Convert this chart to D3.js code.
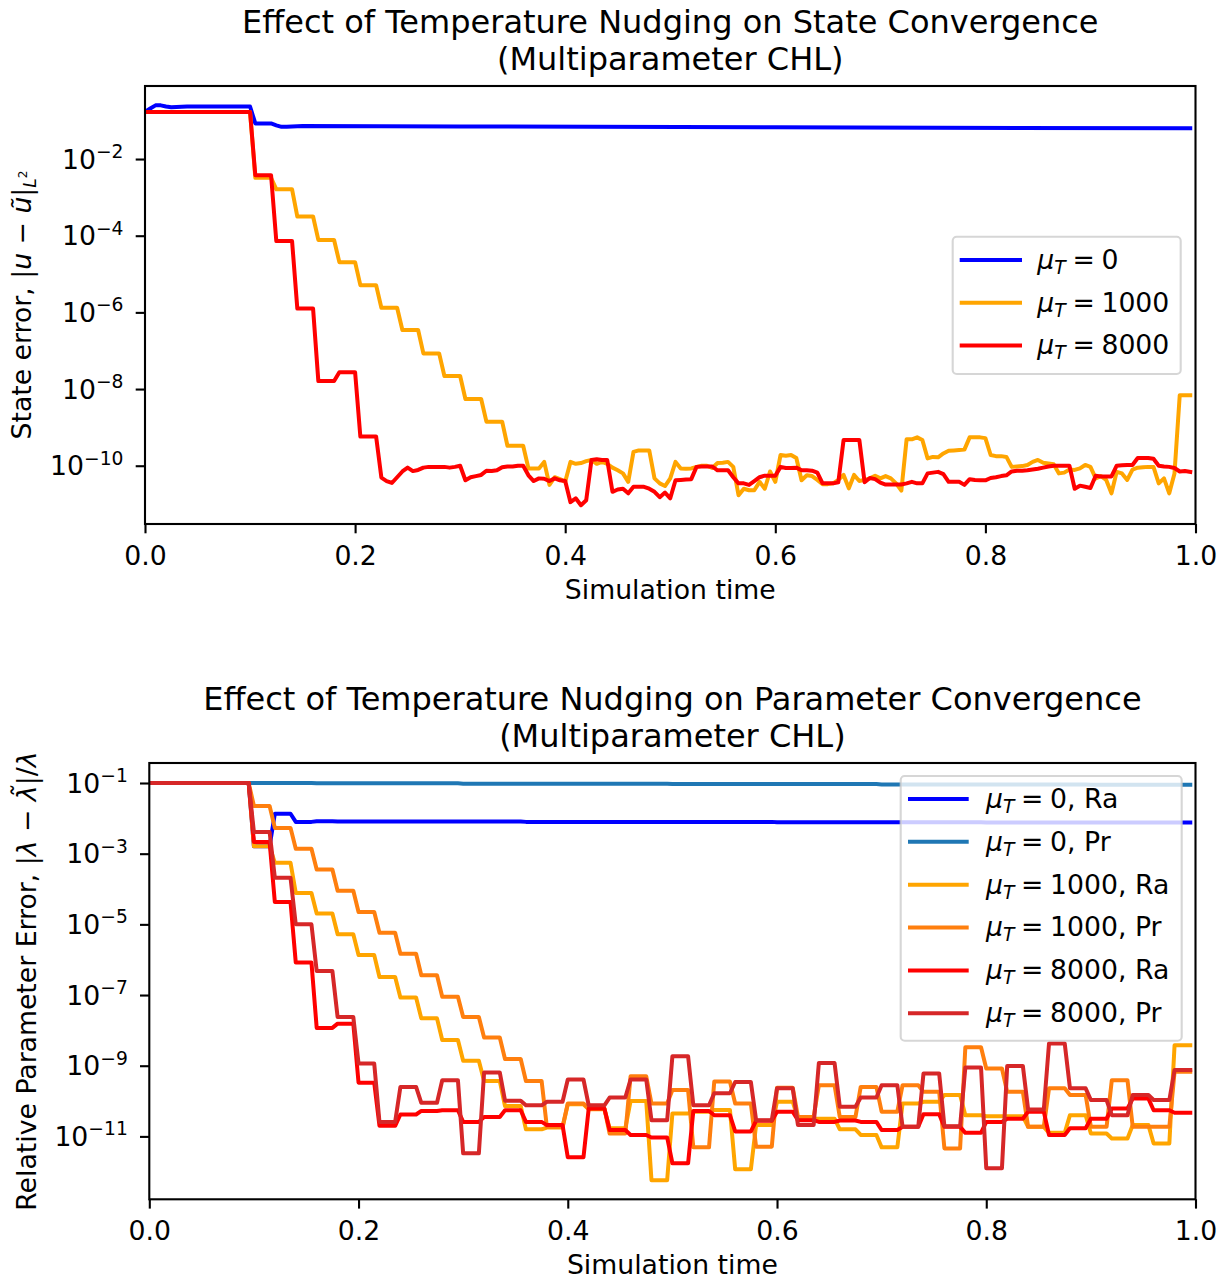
<!DOCTYPE html>
<html>
<head>
<meta charset="utf-8">
<title>Temperature nudging - CHL</title>
<script src="https://d3js.org/d3.v7.min.js"></script>
<style>
  body { margin: 0; background: #fff; }
  text { font-family: "DejaVu Sans", sans-serif; fill: #000; }
</style>
</head>
<body>
<svg id="chart" width="1228" height="1284"></svg>
<script>
// ---- data (errors are stored as log10 values) ----
const dt = 0.005;        // output step of the simulation
const stepLen = 0.02;    // parameter update interval (bottom panel plateaus)
const xTicks = [0, 0.2, 0.4, 0.6, 0.8, 1.0];

// top panel: state error, [time, log10 error] for mu_T = 0 (smooth curve)
const stateMu0 = [[0,-0.77],[0.005,-0.68],[0.01,-0.6],[0.015,-0.6],[0.02,-0.63],[0.025,-0.65],
  [0.03,-0.64],[0.04,-0.63],[0.1,-0.63],[0.105,-1.07],[0.12,-1.07],[0.125,-1.12],[0.13,-1.16],
  [0.135,-1.16],[0.15,-1.14],[0.3,-1.15],[0.6,-1.17],[0.995,-1.2]];

// top panel: one value per output step (t = k * dt)
const stateMu1000 = [
  -0.77,-0.77,-0.77,-0.77,-0.77,-0.77,-0.77,-0.77,-0.77,-0.77,-0.77,-0.77,-0.77,-0.77,-0.77,-0.77,-0.77,-0.77,-0.77,-0.77,-0.77,
  -2.49,-2.49,-2.49,-2.49,-2.79,-2.79,-2.79,-2.79,-3.5,-3.5,-3.5,-3.5,-4.11,-4.11,-4.11,-4.11,
  -4.69,-4.69,-4.69,-4.69,-5.29,-5.29,-5.29,-5.29,-5.88,-5.88,-5.88,-5.88,-6.46,-6.46,-6.46,-6.46,
  -7.07,-7.07,-7.07,-7.07,-7.66,-7.66,-7.66,-7.66,-8.26,-8.26,-8.26,-8.26,-8.85,-8.85,-8.85,-8.85,
  -9.48,-9.48,-9.48,-9.48,-10.07,-10.07,-10.07,-9.9,-10.5,-10.3,-10.35,-10.42,
  -9.9,-9.95,-9.93,-9.88,-9.85,-9.95,-9.9,-9.95,
  -10.05,-10.12,-10.2,-10.42,-9.64,-9.6,-9.6,-9.6,-10.33,-10.46,-10.53,-10.33,
  -9.9,-10.07,-10.08,-10.07,-10.03,-10.0,-10.0,-10.06,-9.93,-9.92,-9.9,-10.03,
  -10.77,-10.6,-10.64,-10.64,-10.42,-10.6,-10.15,-10.42,-9.72,-9.74,-9.72,-9.8,
  -10.38,-10.25,-10.27,-10.37,-10.48,-10.48,-10.46,-10.37,-10.24,-10.59,-10.24,-10.4,
  -10.37,-10.33,-10.26,-10.33,-10.27,-10.33,-10.46,-10.65,-9.31,-9.31,-9.26,-9.33,
  -9.81,-9.77,-9.78,-9.68,-9.61,-9.6,-9.59,-9.58,-9.26,-9.26,-9.26,-9.28,
  -9.72,-9.75,-9.75,-9.77,-10.03,-10.02,-10.01,-9.98,-9.9,-9.85,-9.92,-9.94,
  -9.96,-10.2,-10.18,-10.1,-10.11,-10.07,-9.98,-10.03,-10.33,-10.27,-10.37,-10.72,
  -10.16,-10.2,-10.37,-10.1,-10.05,-10.04,-10.03,-10.03,-10.46,-10.33,-10.72,-10.2,-8.16,-8.16,-8.16];

const stateMu8000 = [
  -0.77,-0.77,-0.77,-0.77,-0.77,-0.77,-0.77,-0.77,-0.77,-0.77,-0.77,-0.77,-0.77,-0.77,-0.77,-0.77,-0.77,-0.77,-0.77,-0.77,-0.77,
  -2.42,-2.42,-2.42,-2.42,-4.14,-4.14,-4.14,-4.14,-5.9,-5.9,-5.9,-5.9,-7.79,-7.79,-7.79,-7.79,
  -7.56,-7.56,-7.56,-7.56,-9.24,-9.24,-9.24,-9.24,
  -10.31,-10.4,-10.45,-10.3,-10.15,-10.05,-10.14,-10.11,
  -10.05,-10.03,-10.03,-10.03,-10.03,-10.05,-10.03,-10.0,
  -10.38,-10.3,-10.27,-10.24,-10.13,-10.14,-10.12,-10.04,-10.02,-10.02,-10.0,-10.0,
  -10.25,-10.4,-10.33,-10.34,-10.4,-10.33,-10.38,-10.4,
  -10.95,-10.85,-11.03,-10.9,-9.85,-9.83,-9.85,-9.85,
  -10.68,-10.62,-10.6,-10.72,-10.55,-10.55,-10.55,-10.6,-10.68,-10.82,-10.7,-10.85,
  -10.38,-10.37,-10.36,-10.35,-10.03,-10.02,-10.02,-10.02,-10.12,-10.12,-10.12,-10.3,
  -10.46,-10.46,-10.5,-10.4,-10.3,-10.26,-10.26,-10.26,-10.03,-10.06,-10.06,-10.05,
  -10.12,-10.12,-10.13,-10.18,-10.46,-10.46,-10.46,-10.43,-9.33,-9.33,-9.33,-9.33,
  -10.43,-10.32,-10.35,-10.44,-10.49,-10.49,-10.49,-10.49,-10.46,-10.42,-10.46,-10.46,
  -10.2,-10.18,-10.16,-10.22,-10.42,-10.42,-10.42,-10.5,-10.35,-10.37,-10.38,-10.38,
  -10.32,-10.3,-10.27,-10.25,-10.15,-10.13,-10.13,-10.12,-10.1,-10.08,-10.05,-10.02,
  -10.0,-10.0,-10.0,-10.0,-10.6,-10.52,-10.55,-10.58,-10.26,-10.28,-10.28,-10.28,
  -10.0,-9.99,-9.98,-9.98,-9.8,-9.8,-9.8,-9.82,-10.0,-10.02,-10.03,-10.06,-10.15,-10.14,-10.16];

// bottom panel: one value per parameter interval (50 intervals of length 0.02)
const paramMu0Ra = [-1,-1,-1,-1,-1,-2.79,-1.87,-2.1,-2.08,-2.09,
  -2.09,-2.09,-2.09,-2.09,-2.09,-2.09,-2.09,-2.09,-2.1,-2.1,
  -2.1,-2.1,-2.1,-2.1,-2.1,-2.1,-2.1,-2.1,-2.1,-2.1,
  -2.11,-2.11,-2.11,-2.11,-2.11,-2.11,-2.11,-2.11,-2.11,-2.11,
  -2.12,-2.12,-2.12,-2.12,-2.12,-2.12,-2.12,-2.12,-2.12,-2.12];
const paramMu0Pr = [-1,-1,-1,-1,-1,-1,-1,-1,-1.01,-1.01,
  -1.01,-1.01,-1.01,-1.01,-1.01,-1.02,-1.02,-1.02,-1.02,-1.02,
  -1.02,-1.02,-1.02,-1.02,-1.02,-1.03,-1.03,-1.03,-1.03,-1.03,
  -1.03,-1.03,-1.03,-1.03,-1.03,-1.04,-1.04,-1.04,-1.04,-1.04,
  -1.04,-1.04,-1.04,-1.04,-1.04,-1.05,-1.05,-1.05,-1.05,-1.05];
const paramMu1000Ra = [-1,-1,-1,-1,-1,-2.79,-3.26,-4.11,-4.69,-5.28,
  -5.87,-6.49,-7.07,-7.66,-8.27,-8.86,-9.43,-10.14,-10.8,-10.75,
  -10.09,-10.23,-10.77,-10.0,-12.24,-10.35,-10.3,-10.25,-11.93,-10.68,
  -10.02,-10.5,-10.5,-10.8,-10.96,-11.31,-10.07,-10.02,-9.83,-10.4,
  -10.43,-10.43,-10.73,-10.9,-10.4,-10.92,-11.06,-10.68,-11.2,-8.42];
const paramMu1000Pr = [-1,-1,-1,-1,-1,-1.65,-2.27,-2.86,-3.45,-4.05,
  -4.65,-5.24,-5.83,-6.44,-7.05,-7.62,-8.2,-8.81,-9.43,-10.73,
  -10.07,-10.21,-10.92,-9.3,-10.07,-9.69,-11.31,-9.45,-10.07,-11.29,
  -9.62,-10.45,-9.55,-10.45,-9.6,-10.3,-9.55,-9.74,-11.34,-8.48,
  -9.08,-9.74,-10.73,-9.64,-9.83,-10.73,-9.41,-10.73,-10.73,-9.17];
const paramMu8000Ra = [-1,-1,-1,-1,-1,-2.67,-4.37,-6.08,-7.93,-7.81,
  -9.48,-10.7,-10.38,-10.28,-10.26,-10.59,-10.45,-10.26,-10.59,-10.68,
  -11.59,-10.21,-10.82,-10.96,-11.03,-11.76,-10.28,-10.4,-10.86,-10.56,
  -10.3,-10.54,-10.59,-10.55,-10.59,-10.82,-10.73,-10.37,-10.73,-10.9,
  -10.59,-10.5,-10.3,-10.96,-10.77,-10.5,-10.21,-9.93,-10.26,-10.33];
const paramMu8000Pr = [-1,-1,-1,-1,-1,-2.39,-3.68,-5.0,-6.32,-7.62,
  -8.94,-10.59,-9.6,-10.05,-9.41,-11.48,-9.19,-9.99,-10.12,-10.02,
  -9.39,-10.12,-9.9,-9.39,-10.54,-8.73,-10.12,-9.78,-9.46,-10.54,
  -9.64,-10.68,-8.92,-10.16,-9.9,-9.55,-10.73,-9.22,-10.71,-9.05,
  -11.9,-9.01,-10.24,-8.37,-9.64,-9.97,-10.4,-9.83,-9.97,-9.12];

const stateLabels = ["0", "1000", "8000"];
const paramLabels = ["0, Ra", "0, Pr", "1000, Ra", "1000, Pr", "8000, Ra", "8000, Pr"];
const stateYTicks = [-2, -4, -6, -8, -10];
const paramYTicks = [-1, -3, -5, -7, -9, -11];
const stateYLim = [-11.52, -0.095];   // log10 limits of the y axis
const paramYLim = [-12.78, -0.434];

// ---- styles ----
const stateColors = ["#0000ff", "#ffa500", "#ff0000"];
const paramColors = ["#0000ff", "#1f77b4", "#ffa500", "#ff7f0e", "#ff0000", "#d62728"];
const fsTick = 26.7, fsTitle = 32, lw = 4;

const svg = d3.select("#chart");
svg.append("rect").attr("width", 1228).attr("height", 1284).attr("fill", "#fff");

// series builders
const perStep = arr => arr.map((v, k) => [k * dt, v]);
const plateaus = arr => arr.flatMap((v, i) => [[i * stepLen, v], [i * stepLen + 3 * dt, v]]);

function drawPanel(p) {
  const x = d3.scaleLinear().domain([0, 1]).range([p.left, p.right]);
  const y = d3.scaleLog().domain([10 ** p.yLim[0], 10 ** p.yLim[1]]).range([p.bottom, p.top]);
  const g = svg.append("g");

  const clipId = "clip" + p.id;
  g.append("clipPath").attr("id", clipId).append("rect")
    .attr("x", p.left).attr("y", p.top)
    .attr("width", p.right - p.left).attr("height", p.bottom - p.top);

  const line = d3.line().x(d => x(d[0])).y(d => y(10 ** d[1]));
  g.append("g").attr("clip-path", `url(#${clipId})`)
    .selectAll("path").data(p.series).join("path")
    .attr("d", d => line(d.pts))
    .attr("fill", "none")
    .attr("stroke", d => d.color)
    .attr("stroke-width", lw)
    .attr("stroke-linejoin", "round")
    .attr("stroke-linecap", "square");

  // x axis
  const xAxis = d3.axisBottom(x).tickValues(xTicks).tickFormat(d3.format(".1f"))
    .tickSize(9.3).tickSizeOuter(0);
  const xg = g.append("g").attr("transform", `translate(0,${p.bottom})`).call(xAxis);
  xg.select(".domain").remove();
  xg.selectAll("line").attr("stroke", "#000").attr("stroke-width", 2.1);
  xg.selectAll("text").attr("font-size", fsTick).attr("font-family", "DejaVu Sans")
    .attr("dy", null).attr("y", 40.5).attr("fill", "#000");

  // y axis (log, labels drawn as 10 with superscript)
  const yAxis = d3.axisLeft(y).tickValues(p.yTicks.map(e => 10 ** e)).tickFormat("")
    .tickSize(9.3).tickSizeOuter(0);
  const yg = g.append("g").attr("transform", `translate(${p.left},0)`).call(yAxis);
  yg.select(".domain").remove();
  yg.selectAll("line").attr("stroke", "#000").attr("stroke-width", 2.1);
  p.yTicks.forEach(e => {
    const t = g.append("text").attr("x", p.left - 21.5).attr("y", y(10 ** e) + 9.5)
      .attr("text-anchor", "end").attr("font-size", fsTick);
    t.append("tspan").text("10");
    t.append("tspan").attr("font-size", 18.7).attr("dy", -10.5).text("\u2212" + Math.abs(e));
  });

  // frame
  g.append("rect").attr("x", p.left).attr("y", p.top)
    .attr("width", p.right - p.left).attr("height", p.bottom - p.top)
    .attr("fill", "none").attr("stroke", "#000").attr("stroke-width", 2.1);

  // titles
  const cx = (p.left + p.right) / 2;
  p.title.forEach((s, i) => {
    g.append("text").attr("x", cx).attr("y", p.top - 53 + i * 36.5)
      .attr("text-anchor", "middle").attr("font-size", fsTitle).text(s);
  });
  g.append("text").attr("x", cx).attr("y", p.bottom + 74.5)
    .attr("text-anchor", "middle").attr("font-size", fsTick).text("Simulation time");

  // y label
  const yl = g.append("text")
    .attr("transform", `translate(${p.ylabelX},${(p.top + p.bottom) / 2}) rotate(-90)`)
    .attr("text-anchor", "middle").attr("font-size", fsTick);
  p.ylabel(yl);

  // legend
  const L = p.legend;
  const lg = g.append("g");
  lg.append("rect").attr("x", L.x0).attr("y", L.y0)
    .attr("width", L.x1 - L.x0).attr("height", L.y1 - L.y0).attr("rx", 4)
    .attr("fill", "#fff").attr("fill-opacity", 0.8)
    .attr("stroke", "#cccccc").attr("stroke-opacity", 0.8).attr("stroke-width", 2.1);
  p.series.forEach((s, i) => {
    const ly = L.firstY + i * L.gap;
    lg.append("line").attr("x1", L.lineX0).attr("x2", L.lineX1).attr("y1", ly).attr("y2", ly)
      .attr("stroke", s.color).attr("stroke-width", lw).attr("stroke-linecap", "square");
    const t = lg.append("text").attr("x", L.textX).attr("y", ly + 8.8).attr("font-size", fsTick);
    t.append("tspan").attr("font-style", "italic").text("\u03bc");
    t.append("tspan").attr("font-style", "italic").attr("font-size", 18.7).attr("dy", 5).text("T");
    t.append("tspan").attr("dy", -5).text("\u2005=\u2005" + s.label);
  });
}

drawPanel({
  id: 1, left: 145, right: 1195.5, top: 86, bottom: 524,
  yLim: stateYLim, yTicks: stateYTicks,
  title: ["Effect of Temperature Nudging on State Convergence", "(Multiparameter CHL)"],
  series: [
    { pts: stateMu0, color: stateColors[0], label: stateLabels[0] },
    { pts: perStep(stateMu1000), color: stateColors[1], label: stateLabels[1] },
    { pts: perStep(stateMu8000), color: stateColors[2], label: stateLabels[2] }
  ],
  ylabelX: 31,
  ylabel: t => {
    t.append("tspan").text("State error, |");
    t.append("tspan").attr("font-style", "italic").text("u");
    t.append("tspan").text(" \u2212 ");
    t.append("tspan").attr("font-style", "italic").text("\u0169");
    t.append("tspan").text("|");
    t.append("tspan").attr("font-style", "italic").attr("font-size", 17).attr("dy", 5).text("L");
    t.append("tspan").attr("font-size", 12).attr("dy", -9).text("2");
  },
  legend: { x0: 952.7, x1: 1180.7, y0: 236.7, y1: 374, lineX0: 961.7, lineX1: 1020,
            textX: 1037.3, firstY: 260, gap: 42.8 }
});

drawPanel({
  id: 2, left: 149.3, right: 1195.5, top: 763, bottom: 1199.3,
  yLim: paramYLim, yTicks: paramYTicks,
  title: ["Effect of Temperature Nudging on Parameter Convergence", "(Multiparameter CHL)"],
  series: [paramMu0Ra, paramMu0Pr, paramMu1000Ra, paramMu1000Pr, paramMu8000Ra, paramMu8000Pr]
    .map((arr, i) => ({ pts: plateaus(arr), color: paramColors[i], label: paramLabels[i] })),
  ylabelX: 36,
  ylabel: t => {
    t.append("tspan").text("Relative Parameter Error, |");
    t.append("tspan").attr("font-style", "italic").text("\u03bb");
    t.append("tspan").text(" \u2212 ");
    t.append("tspan").attr("font-style", "italic").text("\u03bb\u0303");
    t.append("tspan").text("|/");
    t.append("tspan").attr("font-style", "italic").text("\u03bb");
  },
  legend: { x0: 900.7, x1: 1181.7, y0: 776, y1: 1040.7, lineX0: 910, lineX1: 966.7,
            textX: 986, firstY: 799, gap: 42.86 }
});
</script>
</body>
</html>
